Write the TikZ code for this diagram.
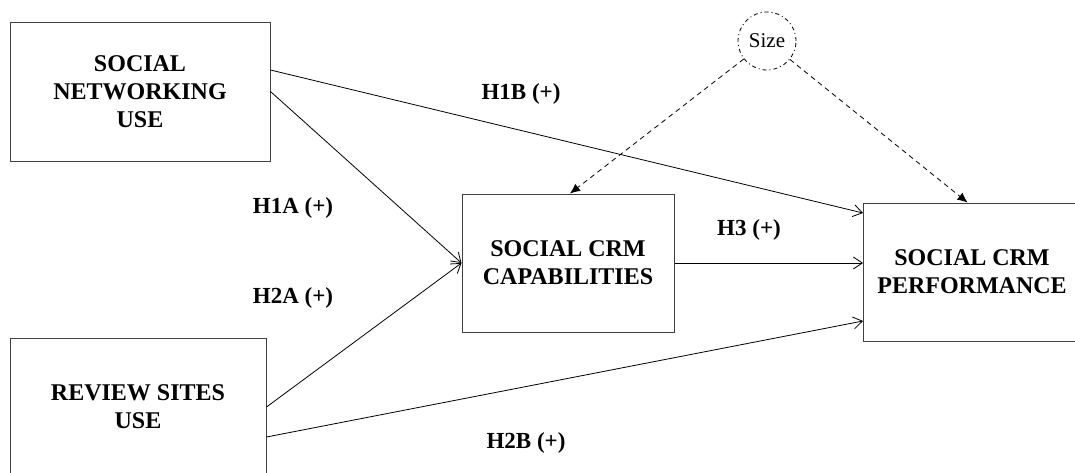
\documentclass[tikz,border=0pt]{standalone}
\usepackage{fontspec}
\setmainfont{Liberation Serif}
\usetikzlibrary{arrows.meta}

\begin{document}
\begin{tikzpicture}[x=1pt,y=-1pt]

\tikzset{construct/.style = {shape=rectangle,draw=black!75,line width=1pt,align=center,font=\fontsize{24}{28}\selectfont\bfseries}}
\tikzset{hyp/.style = {font=\fontsize{23}{27}\selectfont\bfseries}}
\tikzset{edge/.style = {-{Straight Barb[length=9pt,width=12pt]},line width=0.8pt}}
\tikzset{moderated/.style = {-{Latex[length=10pt,width=9pt]},line width=0.8pt,dash pattern=on 5pt off 4pt}}
\clip (0,0) rectangle (1075,472);
%constructs
\node[construct, minimum width=260pt, minimum height=139pt] (sn) at (140,91.5) {SOCIAL\\NETWORKING\\USE};
\node[construct, minimum width=256pt, minimum height=138pt] (rev) at (138,407) {REVIEW SITES\\USE};
\node[construct, minimum width=212pt, minimum height=138pt] (cap) at (568,263) {SOCIAL CRM\\CAPABILITIES};
\node[construct, minimum width=240pt, minimum height=138pt, anchor=west] (perf) at (863,272) {};
\node[construct, draw=none] (perftext) at (972,272) {SOCIAL CRM\\PERFORMANCE};
\node[shape=circle, draw, line width=0.8pt, dash pattern=on 4pt off 3pt on 1pt off 3pt, minimum size=58pt, inner sep=0pt, font=\fontsize{21}{25}\selectfont] (size) at (767,41) {Size};
%hypotheses
\node[hyp] (h1a) at (293,208) {H1A (+)};
\node[hyp] (h2a) at (293,298) {H2A (+)};
\node[hyp] (h1b) at (521,94) {H1B (+)};
\node[hyp] (h2b) at (526,443) {H2B (+)};
\node[hyp] (h3) at (749,230) {H3 (+)};
%paths
\draw [edge] (sn.east) -- (cap.west);
\draw [edge] ([yshift=21.5pt]sn.east) -- ([yshift=59pt]perf.west);
\draw [edge] (rev.east) -- (cap.west);
\draw [edge] ([yshift=-30pt]rev.east) -- ([yshift=-49pt]perf.west);
\draw [edge] (cap.east) -- ([yshift=9pt]perf.west);
\draw [moderated] (size) -- ([xshift=2pt]cap.north);
\draw [moderated] (size) -- ([xshift=967pt-983pt]perf.north);

\end{tikzpicture}
\end{document}
